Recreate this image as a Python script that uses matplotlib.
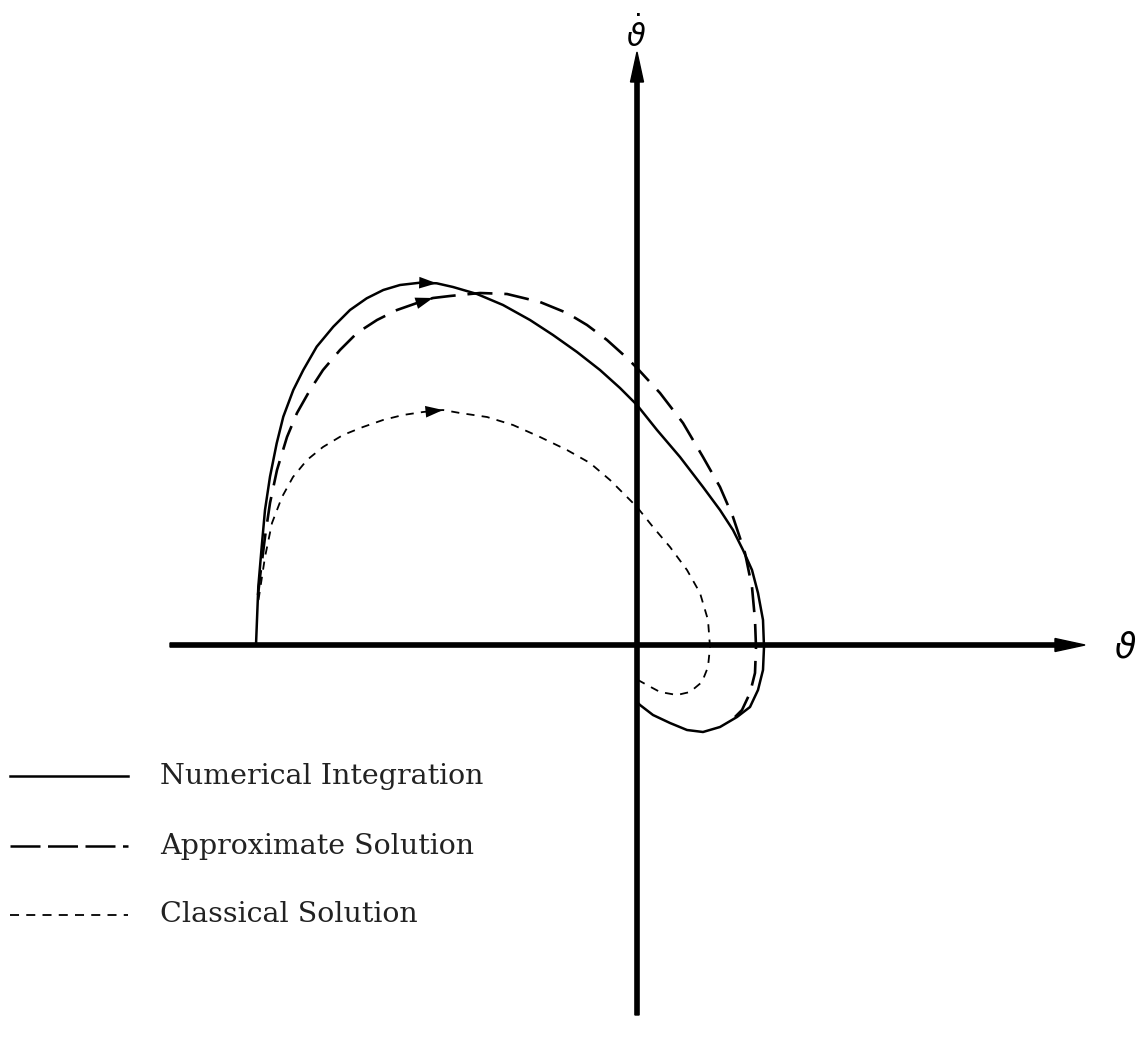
import matplotlib
matplotlib.use("Agg")
import matplotlib.pyplot as plt
from matplotlib.lines import Line2D

# Phase-plane trajectories (theta, theta-dot)
num_theta = [-3.81, -3.787, -3.753, -3.72, -3.67, -3.603, -3.537, -3.437, -3.337, -3.203,
             -3.037, -2.87, -2.703, -2.537, -2.37, -2.17, -2.003, -1.84, -1.60, -1.34,
             -1.07, -0.84, -0.60, -0.37, -0.17, 0.00, 0.20, 0.43, 0.66, 0.83,
             0.96, 1.06, 1.15, 1.21, 1.26, 1.27, 1.26, 1.21, 1.13, 1.00,
             0.83, 0.66, 0.50, 0.33, 0.16, 0.03, 0.00]
num_thetadot = [0.00, 0.583, 0.983, 1.35, 1.683, 2.017, 2.283, 2.55, 2.75, 2.983,
                3.183, 3.35, 3.467, 3.55, 3.60, 3.623, 3.617, 3.58, 3.51, 3.40,
                3.25, 3.10, 2.93, 2.75, 2.57, 2.40, 2.15, 1.88, 1.58, 1.35,
                1.15, 0.95, 0.75, 0.52, 0.25, -0.02, -0.25, -0.45, -0.62, -0.72,
                -0.82, -0.87, -0.85, -0.78, -0.70, -0.60, -0.57]

approx_theta = [-3.79, -3.77, -3.72, -3.67, -3.60, -3.50, -3.40, -3.27, -3.14, -2.97,
                -2.80, -2.60, -2.40, -2.20, -2.04, -1.87, -1.57, -1.30, -0.97, -0.70,
                -0.50, -0.30, -0.10, 0.00, 0.23, 0.46, 0.66, 0.83, 0.96, 1.08,
                1.15, 1.18, 1.19, 1.18, 1.13, 1.05, 0.98]
approx_thetadot = [0.50, 0.68, 1.08, 1.42, 1.75, 2.08, 2.32, 2.55, 2.75, 2.95,
                   3.12, 3.25, 3.35, 3.42, 3.47, 3.49, 3.52, 3.51, 3.43, 3.32,
                   3.20, 3.05, 2.87, 2.77, 2.52, 2.22, 1.88, 1.58, 1.28, 0.92,
                   0.58, 0.25, -0.02, -0.28, -0.48, -0.65, -0.72]

class_theta = [-3.785, -3.77, -3.72, -3.65, -3.55, -3.44, -3.30, -3.14, -2.94, -2.74,
               -2.54, -2.34, -2.14, -1.94, -1.77, -1.50, -1.24, -0.97, -0.70, -0.47,
               -0.27, -0.10, 0.00, 0.16, 0.33, 0.50, 0.63, 0.71, 0.73, 0.71,
               0.65, 0.53, 0.40, 0.23, 0.10, 0.01]
class_thetadot = [0.45, 0.55, 0.88, 1.22, 1.48, 1.68, 1.85, 1.98, 2.10, 2.18,
                  2.25, 2.30, 2.33, 2.35, 2.32, 2.28, 2.20, 2.08, 1.95, 1.82,
                  1.65, 1.48, 1.38, 1.18, 0.98, 0.75, 0.52, 0.25, -0.02, -0.22,
                  -0.37, -0.47, -0.50, -0.47, -0.40, -0.35]

# Index of the point each direction arrow ends at
num_arrow_idx = 16
approx_arrow_idx = 14
class_arrow_idx = 13

legend_labels = ["Numerical Integration", "Approximate Solution", "Classical Solution"]

W, H = 1146, 1044
fig = plt.figure(figsize=(W / 100, H / 100), dpi=100)
ax = fig.add_axes([0, 0, 1, 1])
ax.set_xlim(-6.37, 5.09)
ax.set_ylim(-3.99, 6.45)
ax.axis("off")

# Coordinate axes with arrowheads
ax.arrow(-4.67, 0, 9.15, 0, width=0.042, head_width=0.13, head_length=0.30,
         length_includes_head=True, color="black", zorder=3)
ax.arrow(0, -3.70, 0, 9.63, width=0.042, head_width=0.13, head_length=0.30,
         length_includes_head=True, color="black", zorder=3)

# Axis names: theta on the right, theta-dot on top
ax.text(4.88, -0.03, r"$\vartheta$", fontsize=25, ha="center", va="center")
ax.text(-0.01, 5.98, r"$\dot{\vartheta}$", fontsize=22, ha="center", va="baseline")

ax.plot(num_theta, num_thetadot, color="black", lw=1.8,
        solid_capstyle="round", solid_joinstyle="round")
ax.plot(approx_theta, approx_thetadot, color="black", lw=1.9, dashes=(9.5, 4.5))
ax.plot(class_theta, class_thetadot, color="black", lw=1.3, dashes=(4.5, 4.0))


def direction_arrow(xs, ys, i):
    ax.annotate("", xy=(xs[i], ys[i]), xytext=(xs[i - 1], ys[i - 1]),
                arrowprops=dict(arrowstyle="-|>,head_length=0.9,head_width=0.3",
                                color="black", lw=0, shrinkA=0, shrinkB=0,
                                mutation_scale=14))


direction_arrow(num_theta, num_thetadot, num_arrow_idx)
direction_arrow(approx_theta, approx_thetadot, approx_arrow_idx)
direction_arrow(class_theta, class_thetadot, class_arrow_idx)

# Key
key_styles = [dict(lw=1.8), dict(lw=1.8, dashes=(12, 3)), dict(lw=1.3, dashes=(5, 4))]
key_y = [1 - 776 / H, 1 - 846 / H, 1 - 915 / H]
for label, style, y in zip(legend_labels, key_styles, key_y):
    fig.add_artist(Line2D([10 / W, 128 / W], [y, y], color="black",
                          transform=fig.transFigure, **style))
    fig.text(160 / W, y, label, fontsize=20.5, family="DejaVu Serif",
             ha="left", va="center", color="#222222")

fig.savefig("out.png", dpi=100, facecolor="white")
